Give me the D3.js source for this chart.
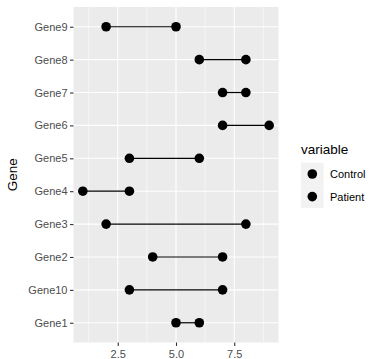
<!DOCTYPE html>
<html><head><meta charset="utf-8">
<script src="https://cdn.jsdelivr.net/npm/d3@7"></script>
<style>body{margin:0;background:#fff}svg{display:block}</style>
</head><body>
<script>
const genes = ["Gene1","Gene10","Gene2","Gene3","Gene4","Gene5","Gene6","Gene7","Gene8","Gene9"];
const control = [5,3,4,2,1,3,7,7,6,2];
const patient = [6,7,7,8,3,6,9,8,8,5];
const xTicks = [2.5,5.0,7.5];
const xMinor = [1.25,3.75,6.25,8.75];
const legendLabels = ["Control","Patient"];

const W=384,H=359;
const svg=d3.select("body").append("svg").attr("width",W).attr("height",H);
const pl=73.5, pr=278.5, pt=7, pb=342.5;
const x=d3.scaleLinear().domain([0.6,9.4]).range([pl,pr]);
const y=d3.scalePoint().domain(genes).range([pb,pt]).padding(0.6);

svg.append("rect").attr("x",pl).attr("y",pt).attr("width",pr-pl).attr("height",pb-pt).attr("fill","#EBEBEB");
const g=svg.append("g");
xMinor.forEach(v=>g.append("line").attr("x1",x(v)).attr("x2",x(v)).attr("y1",pt).attr("y2",pb).attr("stroke","#fff").attr("stroke-width",0.55));
xTicks.forEach(v=>g.append("line").attr("x1",x(v)).attr("x2",x(v)).attr("y1",pt).attr("y2",pb).attr("stroke","#fff").attr("stroke-width",1.1));
genes.forEach(d=>g.append("line").attr("x1",pl).attr("x2",pr).attr("y1",y(d)).attr("y2",y(d)).attr("stroke","#fff").attr("stroke-width",1.1));

const data=genes.map((d,i)=>({gene:d,c:control[i],p:patient[i]}));
svg.selectAll("line.seg").data(data).enter().append("line").attr("class","seg")
 .attr("x1",d=>x(d.c)).attr("x2",d=>x(d.p)).attr("y1",d=>y(d.gene)).attr("y2",d=>y(d.gene))
 .attr("stroke","#000").attr("stroke-width",1.2);
data.forEach(d=>{
 [d.c,d.p].forEach(v=>svg.append("circle").attr("cx",x(v)).attr("cy",y(d.gene)).attr("r",4.8).attr("fill","#000"));
});

// axes
const xa=svg.append("g").attr("transform",`translate(0,${pb})`)
 .call(d3.axisBottom(x).tickValues(xTicks).tickFormat(d3.format(".1f")).tickSize(3.5).tickPadding(2));
const ya=svg.append("g").attr("transform",`translate(${pl},0)`)
 .call(d3.axisLeft(y).tickSize(3.5).tickPadding(2.5));
[xa,ya].forEach(a=>{a.select(".domain").remove();a.selectAll(".tick line").attr("stroke","#333").attr("stroke-width",1.1);
 a.selectAll("text").attr("fill","#4D4D4D").style("font-family","Arial, 'Liberation Sans', sans-serif").style("font-size","11px");});
xa.selectAll("text").attr("dy","0.9em");

svg.append("text").attr("transform",`translate(17,${(pt+pb)/2}) rotate(-90)`).attr("text-anchor","middle")
 .style("font-family","Arial, 'Liberation Sans', sans-serif").style("font-size","13.5px").attr("fill","#000").text("Gene");

// legend
const lg=svg.append("g");
lg.append("text").attr("x",301).attr("y",154).style("font-family","Arial, 'Liberation Sans', sans-serif").style("font-size","13.5px").text("variable");
legendLabels.forEach((l,i)=>{
 const cy=174+i*22.6;
 lg.append("rect").attr("x",301).attr("y",cy-11.3).attr("width",22.6).attr("height",22.6).attr("fill","#F2F2F2");
 lg.append("circle").attr("cx",312.3).attr("cy",cy).attr("r",4.8).attr("fill","#000");
 lg.append("text").attr("x",330).attr("y",cy+4).style("font-family","Arial, 'Liberation Sans', sans-serif").style("font-size","11px").text(l);
});
</script>
</body></html>
